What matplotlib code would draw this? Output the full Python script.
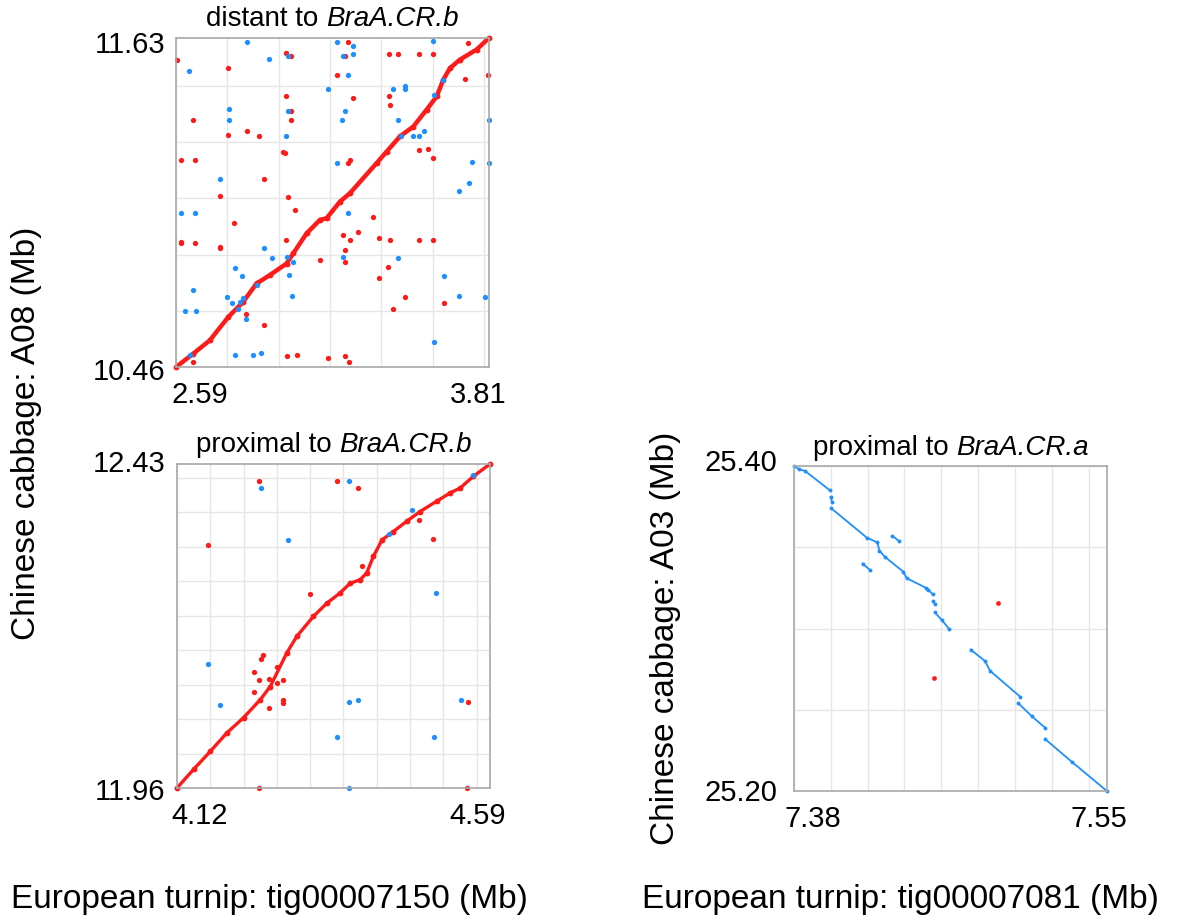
import matplotlib
matplotlib.use("Agg")
import matplotlib.pyplot as plt
import numpy as np

plt.rcParams['font.family'] = ['Liberation Sans', 'DejaVu Sans']

RED = '#ff1a1a'
BLUE = '#1f8fff'

# ---- panel 1: A08 vs tig00007150, distant to BraA.CR.b ----
p1_xlim = (2.59, 3.81)
p1_ylim = (10.46, 11.63)
p1_diag = [(2.590, 10.460), (2.658, 10.508), (2.722, 10.555), (2.794, 10.638),
           (2.852, 10.692), (2.904, 10.757), (2.956, 10.787), (3.021, 10.828),
           (3.047, 10.864), (3.099, 10.935), (3.151, 10.983), (3.177, 10.989),
           (3.229, 11.048), (3.268, 11.078), (3.372, 11.185), (3.411, 11.226),
           (3.463, 11.280), (3.515, 11.315), (3.567, 11.375), (3.606, 11.422),
           (3.632, 11.482), (3.658, 11.523), (3.697, 11.553), (3.762, 11.589),
           (3.810, 11.630)]
p1_red = [(2.595, 11.553), (2.794, 11.523), (2.658, 11.339), (2.794, 11.286),
          (2.868, 11.298), (2.915, 11.283), (3.017, 11.577), (3.037, 11.565),
          (3.017, 11.422), (3.037, 11.369), (3.037, 11.339), (3.008, 11.226),
          (2.608, 11.197), (2.664, 11.197), (2.762, 11.068), (2.933, 11.128),
          (2.816, 10.971), (2.608, 10.902), (2.664, 10.902), (2.762, 10.882),
          (3.017, 10.911), (3.025, 11.066), (3.054, 11.018), (2.934, 10.609),
          (3.021, 10.498), (3.060, 10.504), (3.184, 10.492), (3.249, 10.498),
          (3.266, 10.478), (2.658, 10.478), (3.216, 11.500), (3.262, 11.615),
          (3.249, 11.565), (3.281, 11.416), (3.268, 11.197), (3.262, 11.185),
          (3.151, 10.840), (3.242, 10.929), (3.268, 10.911), (3.301, 10.941),
          (3.249, 10.876), (3.249, 10.834), (3.359, 10.995), (3.381, 10.917),
          (3.424, 10.911), (3.418, 10.816), (3.381, 10.777), (3.437, 10.668),
          (3.483, 10.709), (3.538, 10.911), (3.590, 10.911), (3.538, 11.232),
          (3.571, 11.236), (3.593, 11.203), (3.421, 11.422), (3.424, 11.393),
          (3.420, 11.574), (3.457, 11.574), (3.538, 11.574), (3.590, 11.574),
          (3.729, 11.612), (3.716, 11.485), (3.807, 11.500), (3.634, 10.689),
          (2.863, 10.650), (2.760, 10.885), (3.013, 11.222), (2.608, 10.905)]
p1_blue = [(2.868, 11.615), (2.642, 11.511), (2.952, 11.555), (3.028, 11.565),
           (2.797, 11.377), (2.798, 11.339), (3.017, 11.280), (3.028, 11.369),
           (3.181, 11.450), (3.236, 11.339), (3.249, 11.369), (3.217, 11.185),
           (3.262, 11.500), (3.219, 11.615), (3.281, 11.600), (3.281, 11.574),
           (3.240, 11.565), (3.437, 11.448), (3.484, 11.460), (3.484, 11.448),
           (3.454, 11.339), (3.466, 11.280), (3.515, 11.283), (3.538, 11.280),
           (3.558, 11.300), (3.593, 11.621), (3.595, 11.426), (3.632, 11.482),
           (2.762, 11.129), (2.608, 11.009), (2.664, 11.009), (3.262, 11.009),
           (2.934, 10.882), (2.965, 10.848), (3.021, 10.852), (3.045, 10.834),
           (3.032, 10.787), (3.043, 10.712), (2.819, 10.813), (2.849, 10.784),
           (2.655, 10.733), (2.625, 10.658), (2.668, 10.658), (2.788, 10.709),
           (2.807, 10.686), (2.839, 10.692), (2.863, 10.632), (2.820, 10.504),
           (2.891, 10.502), (2.921, 10.511), (2.645, 10.504), (3.240, 10.852),
           (3.454, 10.848), (3.634, 10.784), (3.693, 10.713), (3.794, 10.709),
           (3.595, 10.549), (3.693, 11.087), (3.733, 11.113), (3.742, 11.188),
           (3.810, 11.185), (3.810, 11.339), (2.904, 10.751), (2.830, 10.665),
           (2.850, 10.705)]

# ---- panel 2: A08 vs tig00007150, proximal to BraA.CR.b ----
p2_xlim = (4.12, 4.59)
p2_ylim = (11.96, 12.43)
p2_diag = [(4.120, 11.960), (4.145, 11.987), (4.170, 12.013), (4.195, 12.040),
           (4.220, 12.062), (4.245, 12.088), (4.260, 12.107), (4.285, 12.156),
           (4.300, 12.180), (4.325, 12.209), (4.345, 12.228), (4.365, 12.243),
           (4.380, 12.257), (4.395, 12.262), (4.405, 12.272), (4.415, 12.296),
           (4.428, 12.320), (4.445, 12.332), (4.465, 12.347), (4.485, 12.361),
           (4.510, 12.376), (4.530, 12.388), (4.545, 12.395), (4.565, 12.412),
           (4.590, 12.430)]
p2_red = [(4.2435, 12.406), (4.360, 12.406), (4.3925, 12.395), (4.1665, 12.312),
          (4.320, 12.242), (4.3985, 12.282), (4.484, 12.349), (4.505, 12.321),
          (4.249, 12.153), (4.246, 12.147), (4.235, 12.129), (4.2425, 12.117),
          (4.2575, 12.118), (4.270, 12.112), (4.280, 12.117), (4.270, 12.136),
          (4.235, 12.099), (4.2575, 12.076), (4.279, 12.088), (4.279, 12.083),
          (4.2435, 11.960), (4.556, 11.960), (4.5575, 12.085)]
p2_blue = [(4.3785, 12.406), (4.246, 12.395), (4.2875, 12.320), (4.4735, 12.364),
           (4.439, 12.329), (4.5085, 12.243), (4.565, 12.414), (4.1665, 12.140),
           (4.184, 12.080), (4.3785, 12.085), (4.3925, 12.087), (4.5465, 12.087),
           (4.361, 12.034), (4.506, 12.034), (4.3785, 11.960)]

# ---- panel 3: A03 vs tig00007081, proximal to BraA.CR.a ----
p3_xlim = (7.38, 7.55)
p3_ylim = (25.20, 25.40)
p3_segments = [
    [(7.380, 25.400), (7.3829, 25.398), (7.3860, 25.397), (7.3996, 25.385)],
    [(7.3999, 25.381), (7.4007, 25.378)],
    [(7.4003, 25.374), (7.4195, 25.356), (7.4253, 25.353), (7.4264, 25.348),
     (7.4295, 25.344), (7.4394, 25.335), (7.4412, 25.331), (7.4518, 25.325),
     (7.4530, 25.324), (7.4554, 25.321)],
    [(7.4557, 25.317), (7.4565, 25.315)],
    [(7.4565, 25.310), (7.4605, 25.305), (7.4641, 25.300)],
    [(7.4173, 25.340), (7.4213, 25.336)],
    [(7.4335, 25.357), (7.4369, 25.354)],
    [(7.4760, 25.287), (7.4838, 25.280), (7.4865, 25.274), (7.5029, 25.258)],
    [(7.5019, 25.254), (7.5092, 25.246), (7.5164, 25.239)],
    [(7.5164, 25.232), (7.5309, 25.218), (7.5500, 25.200)],
]
p3_red = [(7.4907, 25.3155), (7.4561, 25.2697)]

FS_TICK = 21
FS_TITLE = 20
FS_LABEL = 24

fig = plt.figure(figsize=(11.82, 9.24), dpi=100)
renderer = fig.canvas.get_renderer()


def title(ax, plain, ital):
    # plain + italic part, centred together above the axes
    t1 = ax.text(0, 0, plain, fontsize=FS_TITLE)
    t2 = ax.text(0, 0, ital, fontsize=FS_TITLE, style='italic')
    w1 = t1.get_window_extent(renderer).width * 72 / fig.dpi
    w2 = t2.get_window_extent(renderer).width * 72 / fig.dpi
    t1.remove()
    t2.remove()
    left = -(w1 + w2) / 2
    ax.annotate(plain, xy=(0.5, 1), xycoords='axes fraction',
                xytext=(left, 4), textcoords='offset points',
                ha='left', va='bottom', fontsize=FS_TITLE)
    ax.annotate(ital, xy=(0.5, 1), xycoords='axes fraction',
                xytext=(left + w1, 4), textcoords='offset points',
                ha='left', va='bottom', fontsize=FS_TITLE, style='italic')


def setup(ax, xlim, ylim, xstep, ystep, xlabs, ylabs, xpos, ypos):
    ax.set_xlim(xlim)
    ax.set_ylim(ylim)
    ax.set_xticks(np.arange(xlim[0], xlim[1] + 1e-9, xstep))
    ax.set_yticks(np.arange(ylim[0], ylim[1] + 1e-9, ystep))
    ax.tick_params(length=0, labelbottom=False, labelleft=False)
    ax.grid(True, color='#e6e6e6', lw=1.0)
    ax.set_axisbelow(True)
    for s in ax.spines.values():
        s.set_color('#a8a8a8')
        s.set_linewidth(1.2)
    for lab, xp in zip(xlabs, xpos):
        ax.text(xp, -0.085, lab, transform=ax.transAxes, ha='center',
                va='center', fontsize=FS_TICK)
    for lab, yp in zip(ylabs, ypos[1]):
        ax.text(ypos[0], yp, lab, transform=ax.transAxes, ha='right',
                va='center', fontsize=FS_TICK)


def dots(ax, pts, color, ms=3.8):
    a = np.array(pts)
    ax.plot(a[:, 0], a[:, 1], 'o', color=color, ms=ms, mew=0, clip_on=False)


# panel 1
ax1 = fig.add_axes([0.1489, 0.6028, 0.2648, 0.3561])
setup(ax1, p1_xlim, p1_ylim, 0.2, 0.2,
      ['2.59', '3.81'], ['11.63', '10.46'], [0.077, 0.965],
      (-0.035, [0.979, -0.015]))
title(ax1, 'distant to ', 'BraA.CR.b')
d = np.array(p1_diag)
ax1.plot(d[:, 0], d[:, 1], '-', color=RED, lw=3.2)
dots(ax1, p1_diag, RED, ms=4.2)
dots(ax1, p1_red, RED)
dots(ax1, p1_blue, BLUE)

# panel 2
ax2 = fig.add_axes([0.1497, 0.1472, 0.2648, 0.3506])
setup(ax2, p2_xlim, p2_ylim, 0.05, 0.05,
      ['4.12', '4.59'], ['12.43', '11.96'], [0.073, 0.962],
      (-0.038, [1.0, -0.012]))
title(ax2, 'proximal to ', 'BraA.CR.b')
d = np.array(p2_diag)
ax2.plot(d[:, 0], d[:, 1], '-', color=RED, lw=2.4)
dots(ax2, p2_diag, RED, ms=4.2)
dots(ax2, p2_red, RED)
dots(ax2, p2_blue, BLUE)

# panel 3
ax3 = fig.add_axes([0.6717, 0.1439, 0.2648, 0.3517])
setup(ax3, p3_xlim, p3_ylim, 0.02, 0.05,
      ['7.38', '7.55'], ['25.40', '25.20'], [0.061, 0.974],
      (-0.054, [1.009, -0.006]))
title(ax3, 'proximal to ', 'BraA.CR.a')
for seg in p3_segments:
    s = np.array(seg)
    ax3.plot(s[:, 0], s[:, 1], '-', color=BLUE, lw=1.3)
    ax3.plot(s[:, 0], s[:, 1], 'o', color=BLUE, ms=2.8, mew=0, clip_on=False)
dots(ax3, p3_red, RED, ms=3.4)

# axis labels
fig.text(0.228, 0.026, 'European turnip: tig00007150 (Mb)', ha='center',
         va='center', fontsize=FS_LABEL)
fig.text(0.762, 0.026, 'European turnip: tig00007081 (Mb)', ha='center',
         va='center', fontsize=FS_LABEL)
fig.text(0.022, 0.531, 'Chinese cabbage: A08 (Mb)', rotation=90, ha='center',
         va='center', fontsize=FS_LABEL)
fig.text(0.563, 0.309, 'Chinese cabbage: A03 (Mb)', rotation=90, ha='center',
         va='center', fontsize=FS_LABEL)

fig.savefig('out.png', dpi=100)
